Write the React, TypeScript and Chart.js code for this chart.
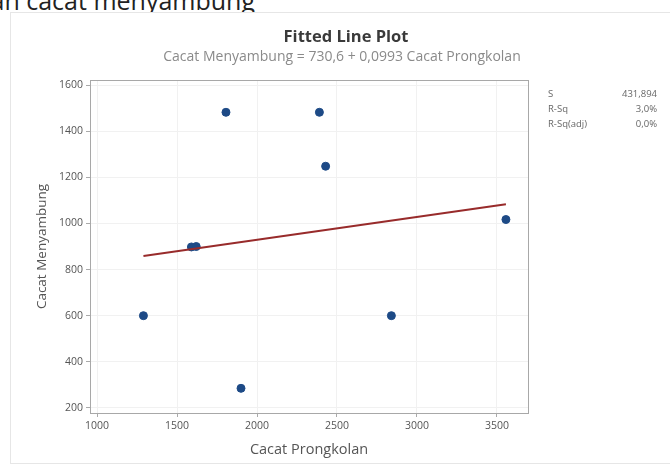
import React, { useEffect, useRef } from "react";
import { Chart, registerables } from "chart.js";

Chart.register(...registerables);

const xValues = [1290, 1900, 2840, 1806, 2390, 2429, 1590, 1620, 3556];
const yValues = [600, 285, 600, 1482, 1482, 1248, 898, 900, 1017];
const fitX = [1290, 3556];
const fitY = [858.7, 1083.7];
const xTicks = [1000, 1500, 2000, 2500, 3000, 3500];
const yTicks = [200, 400, 600, 800, 1000, 1200, 1400, 1600];
const statLabels = ["S", "R-Sq", "R-Sq(adj)"];
const statValues = ["431,894", "3,0%", "0,0%"];

const FONT = "'Open Sans', 'Noto Sans', sans-serif";

export default function App() {
  const ref = useRef<HTMLCanvasElement | null>(null);

  useEffect(() => {
    document.body.style.margin = "0";
    const canvas = ref.current;
    if (!canvas) return;

    const textPlugin = {
      id: "texts",
      afterDraw(chart: any) {
        const ctx = chart.ctx;
        const a = chart.chartArea;
        ctx.save();
        ctx.strokeStyle = "#a8a8a8";
        ctx.lineWidth = 1;
        ctx.strokeRect(Math.round(a.left) + 0.5, Math.round(a.top) + 0.5, Math.round(a.right - a.left), Math.round(a.bottom - a.top));
        ctx.textAlign = "center";
        ctx.textBaseline = "middle";
        ctx.fillStyle = "#3a3a3a";
        ctx.font = `bold 16.5px ${FONT}`;
        ctx.fillText("Fitted Line Plot", 336, 25);
        ctx.fillStyle = "#8a8a8a";
        ctx.font = `14px ${FONT}`;
        ctx.fillText("Cacat Menyambung = 730,6 + 0,0993 Cacat Prongkolan", 332, 45);
        ctx.fillStyle = "#555";
        ctx.font = `14.5px ${FONT}`;
        ctx.fillText("Cacat Prongkolan", (a.left + a.right) / 2, 438);
        ctx.save();
        ctx.translate(32, (a.top + a.bottom) / 2);
        ctx.rotate(-Math.PI / 2);
        ctx.font = `13.5px ${FONT}`;
        ctx.fillText("Cacat Menyambung", 0, 0);
        ctx.restore();
        ctx.font = `9.5px ${FONT}`;
        ctx.fillStyle = "#666";
        statLabels.forEach((l, i) => {
          ctx.textAlign = "left";
          ctx.fillText(l, 538, 82 + i * 15);
          ctx.textAlign = "right";
          ctx.fillText(statValues[i], 647, 82 + i * 15);
        });
        ctx.restore();
      },
    };

    const tickFmt = (v: any) => String(v);

    const chart = new Chart(canvas, {
      type: "scatter",
      data: {
        datasets: [
          {
            type: "line",
            label: "Fit",
            data: fitX.map((x, i) => ({ x, y: fitY[i] })),
            borderColor: "#982b2b",
            borderWidth: 2,
            pointRadius: 0,
            fill: false,
            order: 0,
          } as any,
          {
            label: "Data",
            data: xValues.map((x, i) => ({ x, y: yValues[i] })),
            backgroundColor: "#1d4a86",
            borderColor: "#1d4a86",
            pointRadius: 4,
            order: 1,
          },
        ],
      },
      options: {
        responsive: false,
        animation: false,
        layout: { padding: { top: 68, right: 142, left: 0, bottom: 0 } },
        plugins: { legend: { display: false }, tooltip: { enabled: false }, title: { display: false } },
        scales: {
          x: {
            type: "linear",
            min: 956,
            max: 3694,
            afterBuildTicks: (s: any) => {
              s.ticks = xTicks.map((v) => ({ value: v }));
            },
            afterFit: (s: any) => {
              s.height = 57;
            },
            grid: { color: "#f1f1f1", tickColor: "#aaa", tickLength: 4 },
            border: { color: "#a8a8a8" },
            ticks: { color: "#555", font: { size: 10.5, family: FONT }, padding: 3, maxRotation: 0, callback: tickFmt },
          },
          y: {
            type: "linear",
            min: 178,
            max: 1622,
            afterBuildTicks: (s: any) => {
              s.ticks = yTicks.map((v) => ({ value: v }));
            },
            afterFit: (s: any) => {
              s.width = 80;
            },
            grid: { color: "#f1f1f1", tickColor: "#aaa", tickLength: 4 },
            border: { color: "#a8a8a8" },
            ticks: { color: "#555", font: { size: 10.5, family: FONT }, padding: 3, callback: tickFmt },
          },
        },
      },
      plugins: [textPlugin],
    });
    return () => chart.destroy();
  }, []);

  return (
    <div style={{ position: "fixed", left: 0, top: 0, width: 670, height: 470, background: "#fff", overflow: "hidden" }}>
      <div
        style={{
          position: "absolute",
          right: 415,
          top: -12,
          whiteSpace: "nowrap",
          fontFamily: FONT,
          fontSize: 25,
          lineHeight: "25px",
          color: "#222",
          textAlign: "right",
        }}
      >
        an cacat menyambung
      </div>
      <div
        style={{
          position: "absolute",
          left: 10,
          top: 12,
          width: 680,
          height: 452,
          border: "1px solid #e6e6e6",
          boxSizing: "border-box",
          background: "#fff",
        }}
      />
      <canvas ref={ref} width={660} height={458} style={{ position: "absolute", left: 10, top: 12, width: 660, height: 458 }} />
    </div>
  );
}
